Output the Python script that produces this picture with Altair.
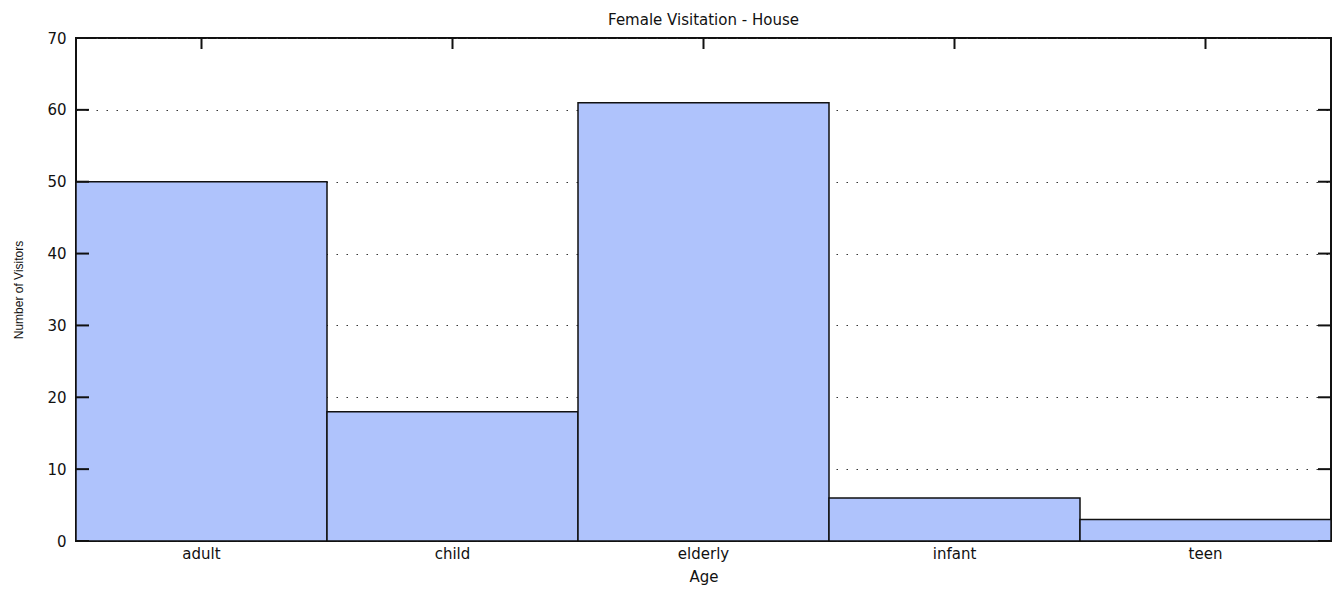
import altair as alt
import pandas as pd

categories = ["adult", "child", "elderly", "infant", "teen"]
visitors = [50, 18, 61, 6, 3]
y_ticks = [0, 10, 20, 30, 40, 50, 60, 70]

W, H = 1255, 503
FONT = "DejaVu Sans"

bars_df = pd.DataFrame({"Age": categories, "Visitors": visitors})
yt_df = pd.DataFrame({"v": y_ticks})
xt_df = pd.DataFrame({"Age": categories})

xscale = alt.Scale(domain=categories, paddingInner=0, paddingOuter=0)
yscale = alt.Scale(domain=[0, 70], nice=False)

bars = alt.Chart(bars_df).mark_bar(
    color="#AFC3FC", stroke="#111111", strokeWidth=1.5
).encode(
    x=alt.X("Age:N", scale=xscale, sort=categories,
            axis=alt.Axis(title="Age", labelAngle=0, ticks=False, domain=False,
                          labelPadding=5, titlePadding=8, labelFontSize=15,
                          titleFontSize=15, labelFont=FONT, titleFont=FONT,
                          labelColor="#111", titleColor="#111", titleFontWeight="normal")),
    y=alt.Y("Visitors:Q", scale=yscale,
            axis=alt.Axis(title="Number of Visitors", values=y_ticks, ticks=False,
                          domain=False, labelPadding=10, labelFontSize=15,
                          labelFont=FONT, titleFont="Liberation Sans",
                          titleFontSize=12, titleFontWeight="normal",
                          labelColor="#111", titleColor="#111",
                          titleX=-58, titleY=H / 2, titleAngle=270,
                          titleBaseline="middle", titleAlign="center",
                          grid=True, gridDash=[1.5, 8.5], gridColor="#333333",
                          gridWidth=1.2)),
)

left_ticks = alt.Chart(yt_df).mark_rule(color="#111", strokeWidth=2).encode(
    y=alt.Y("v:Q", scale=yscale), x=alt.value(0), x2=alt.value(13)
)
right_ticks = alt.Chart(yt_df).mark_rule(color="#111", strokeWidth=2).encode(
    y=alt.Y("v:Q", scale=yscale), x=alt.value(W - 13), x2=alt.value(W)
)
top_ticks = alt.Chart(xt_df).mark_rule(color="#111", strokeWidth=2).encode(
    x=alt.X("Age:N", scale=xscale, sort=categories), y=alt.value(0), y2=alt.value(11)
)

chart = alt.layer(bars, left_ticks, right_ticks, top_ticks).properties(
    width=W, height=H,
    title=alt.TitleParams("Female Visitation - House", fontSize=15, font=FONT,
                          fontWeight="normal", color="#111", offset=3,
                          anchor="middle", frame="group"),
    autosize=alt.AutoSizeParams(type="none"),
    padding={"left": 68, "top": 30, "right": 1, "bottom": 44},
).configure_view(stroke="#111111", strokeWidth=2)

chart.save("out.html", embed_options={"renderer": "svg", "actions": False})
